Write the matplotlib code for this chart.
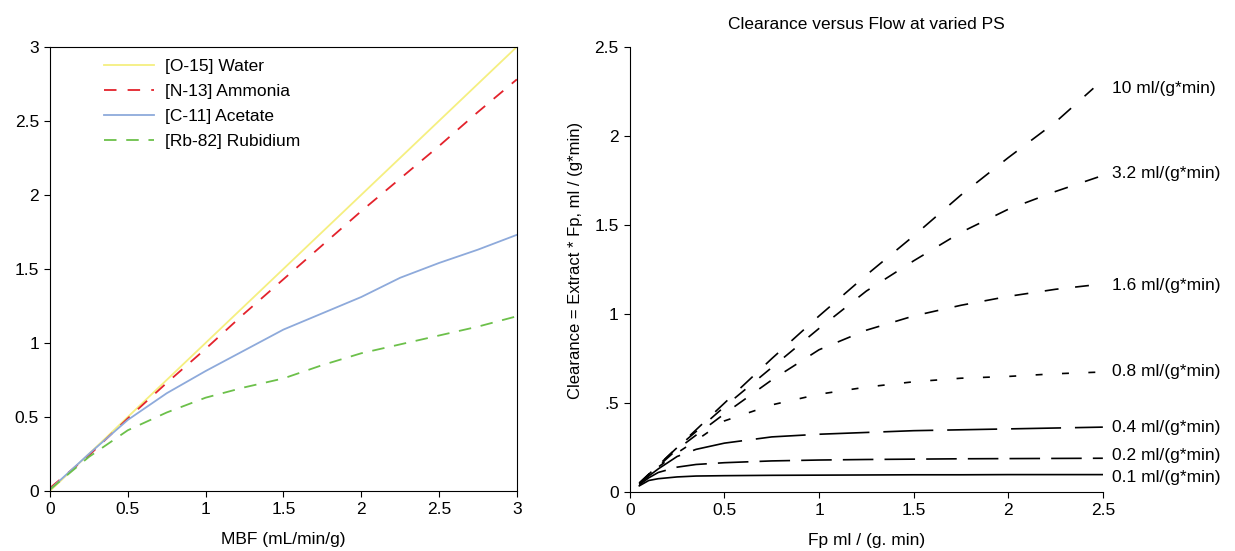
import numpy as np
import matplotlib
matplotlib.use('Agg')
import matplotlib.pyplot as plt

plt.rcParams['font.family'] = ['Liberation Sans', 'DejaVu Sans']
plt.rcParams['lines.scale_dashes'] = False

# left panel: tracer uptake vs MBF
mbf = [0, 0.25, 0.5, 0.75, 1.0, 1.25, 1.5, 1.75, 2.0, 2.25, 2.5, 2.75, 3.0]
water = [0, 0.25, 0.5, 0.75, 1.0, 1.25, 1.5, 1.75, 2.0, 2.25, 2.5, 2.75, 3.0]
ammonia = [0.02, 0.24, 0.49, 0.73, 0.96, 1.2, 1.43, 1.66, 1.89, 2.11, 2.33, 2.56, 2.78]
acetate = [0.01, 0.25, 0.48, 0.66, 0.81, 0.95, 1.09, 1.2, 1.31, 1.44, 1.54, 1.63, 1.73]
rubidium = [0.01, 0.23, 0.41, 0.53, 0.63, 0.7, 0.76, 0.85, 0.93, 0.99, 1.05, 1.11, 1.18]

# right panel: clearance vs flow for several PS values
fp = [0.05, 0.1, 0.15, 0.25, 0.35, 0.5, 0.75, 1.0, 1.25, 1.5, 1.75, 2.0, 2.25, 2.5]
ps_labels = ['10 ml/(g*min)', '3.2 ml/(g*min)', '1.6 ml/(g*min)', '0.8 ml/(g*min)',
             '0.4 ml/(g*min)', '0.2 ml/(g*min)', '0.1 ml/(g*min)']
cl_10 = [0.05, 0.1, 0.15, 0.25, 0.35, 0.5, 0.75, 0.99, 1.22, 1.44, 1.67, 1.88, 2.08, 2.27]
cl_32 = [0.05, 0.1, 0.15, 0.25, 0.34, 0.48, 0.7, 0.92, 1.13, 1.3, 1.46, 1.59, 1.69, 1.78]
cl_16 = [0.05, 0.1, 0.145, 0.24, 0.32, 0.44, 0.63, 0.8, 0.91, 0.99, 1.05, 1.1, 1.14, 1.17]
cl_08 = [0.045, 0.095, 0.14, 0.22, 0.29, 0.4, 0.49, 0.55, 0.59, 0.62, 0.64, 0.65, 0.665, 0.675]
cl_04 = [0.045, 0.09, 0.13, 0.2, 0.24, 0.275, 0.31, 0.325, 0.335, 0.345, 0.35, 0.355, 0.36, 0.365]
cl_02 = [0.04, 0.08, 0.11, 0.14, 0.155, 0.165, 0.175, 0.18, 0.183, 0.185, 0.187, 0.188, 0.189, 0.19]
cl_01 = [0.035, 0.065, 0.075, 0.085, 0.09, 0.092, 0.094, 0.095, 0.096, 0.097, 0.097, 0.098, 0.098, 0.098]
label_y = [2.27, 1.79, 1.16, 0.675, 0.365, 0.205, 0.083]

fig = plt.figure(figsize=(12.35, 5.51), dpi=100)

ax1 = fig.add_axes([0.0405, 0.109, 0.378, 0.806])
ax1.plot(mbf, water, color='#f5ef80', lw=1.3, label='[O-15] Water')
ax1.plot(mbf, ammonia, color='#e3222b', lw=1.3, dashes=(9, 8), label='[N-13] Ammonia')
ax1.plot(mbf, acetate, color='#8eaadb', lw=1.3, label='[C-11] Acetate')
ax1.plot(mbf, rubidium, color='#6cc04a', lw=1.3, dashes=(9, 7), label='[Rb-82] Rubidium')
ax1.set_xlim(0, 3)
ax1.set_ylim(0, 3)
ax1.set_xticks([0, 0.5, 1, 1.5, 2, 2.5, 3])
ax1.set_xticklabels(['0', '0.5', '1', '1.5', '2', '2.5', '3'])
ax1.set_yticks([0, 0.5, 1, 1.5, 2, 2.5, 3])
ax1.set_yticklabels(['0', '0.5', '1', '1.5', '2', '2.5', '3'])
ax1.tick_params(direction='out', length=4, labelsize=12.5, pad=4)
ax1.set_xlabel('MBF (mL/min/g)', fontsize=12.5, labelpad=10.5)
ax1.legend(loc='upper left', bbox_to_anchor=(0.10, 0.988), borderaxespad=0,
           frameon=False, fontsize=12.5, handlelength=2.9, handletextpad=0.65,
           labelspacing=0.56)

ax2 = fig.add_axes([0.510, 0.107, 0.383, 0.807])
styles = [(12, 13), (10, 13), (10, 12), (5, 14), (36, 10), (22, 8), None]
curves = [cl_10, cl_32, cl_16, cl_08, cl_04, cl_02, cl_01]
for vals, st in zip(curves, styles):
    xs = fp if vals is not cl_10 else fp[:-1] + [2.45]
    if st is None:
        ax2.plot(xs, vals, color='black', lw=1.2)
    else:
        ax2.plot(xs, vals, color='black', lw=1.2, dashes=st)
for lab, ly in zip(ps_labels, label_y):
    ax2.text(2.55, ly, lab, fontsize=12.5, va='center', ha='left')
ax2.set_xlim(0, 2.5)
ax2.set_ylim(0, 2.5)
ax2.set_xticks([0, 0.5, 1, 1.5, 2, 2.5])
ax2.set_xticklabels(['0', '0.5', '1', '1.5', '2', '2.5'])
ax2.set_yticks([0, 0.5, 1, 1.5, 2, 2.5])
ax2.set_yticklabels(['0', '.5', '1', '1.5', '2', '2.5'])
ax2.spines['top'].set_visible(False)
ax2.spines['right'].set_visible(False)
ax2.tick_params(direction='out', length=4, labelsize=12.5, pad=4)
ax2.set_xlabel('Fp ml / (g. min)', fontsize=12.5, labelpad=10.5)
ax2.set_ylabel('Clearance = Extract * Fp, ml / (g*min)', fontsize=12)
ax2.yaxis.set_label_coords(-0.10, 0.52)
ax2.set_title('Clearance versus Flow at varied PS', fontsize=12.5, pad=13)

fig.savefig('out.png', dpi=100)
